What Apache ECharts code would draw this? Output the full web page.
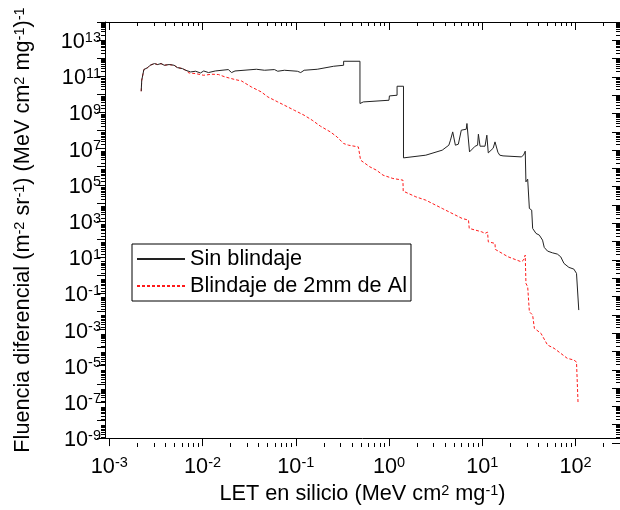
<!DOCTYPE html>
<html>
<head>
<meta charset="utf-8">
<script src="https://cdn.jsdelivr.net/npm/echarts@6/dist/echarts.min.js"></script>
<style>html,body{margin:0;padding:0;background:#fff}#c{width:620px;height:510px}</style>
</head>
<body>
<div id="c"></div>
<script>
// ---- data (LET in MeV cm2 mg-1, fluence) ----
const seriesNames = ['Sin blindaje', 'Blindaje de 2mm de Al'];
const letSin = [2.20e-3,2.23e-3,2.35e-3,2.59e-3,2.74e-3,3.05e-3,3.30e-3,3.59e-3,3.89e-3,4.39e-3,4.96e-3,5.37e-3,6.07e-3,6.60e-3,6.86e-3,7.45e-3,8.42e-3,9.51e-3,1.03e-2,1.16e-2,1.37e-2,1.89e-2,2.05e-2,2.23e-2,3.78e-2,4.63e-2,5.91e-2,6.41e-2,7.55e-2,0.104,0.113,0.123,0.170,0.255,0.326,0.326,0.488,0.488,0.530,0.999,1.01,1.22,1.22,1.43,1.43,2.48,3.72,4.38,4.56,4.82,5.03,5.15,5.54,5.96,6.73,6.85,6.99,7.30,8.39,8.91,9.09,9.36,9.47,10.7,11.2,11.4,11.6,13.1,13.7,14.0,14.7,15.4,16.7,26.2,27.7,28.9,29.4,30.7,32.0,33.9,34.7,37.7,40.9,44.3,46.2,50.1,56.5,63.9,69.4,75.2,84.9,95.9,102.5,105.7,108.4];
const fluSin = [1.65e10,6.58e10,2.52e11,3.24e11,4.33e11,5.36e11,4.73e11,5.36e11,4.33e11,4.73e11,4.33e11,3.24e11,2.86e11,2.31e11,2.52e11,1.87e11,2.04e11,1.64e11,2.11e11,1.73e11,2.11e11,2.52e11,1.73e11,2.11e11,2.62e11,2.31e11,2.52e11,2.04e11,2.31e11,2.04e11,1.73e11,2.31e11,2.62e11,3.82e11,4.33e11,7.16e11,7.16e11,3.52e9,4.30e9,5.32e9,9.14e9,9.98e9,3.09e10,3.09e10,3.77e6,5.30e6,9.93e6,1.86e7,3.49e7,9.9e7,9.5e7,1.86e7,2.11e7,1.23e8,1.39e8,2.85e8,2.61e8,8.02e6,1.64e7,1.86e7,7.41e7,7.41e7,1.64e7,1.64e7,6.55e7,5.77e7,7.07e6,1.28e7,2.82e7,2.7e7,7.71e6,5.30e6,4.85e6,4.28e6,5.30e6,8.75e6,1.85e5,2.59e5,6.52e3,5.27e3,528,282,228,121,48.5,30.5,24.6,20.9,14.9,6.49,3.93,3.17,1.85,1.69,0.0183];
const letAl = [2.20e-3,2.23e-3,2.35e-3,2.59e-3,2.74e-3,3.05e-3,3.30e-3,3.59e-3,3.89e-3,4.39e-3,4.96e-3,5.37e-3,6.07e-3,6.60e-3,6.86e-3,7.15e-3,8.42e-3,1.03e-2,1.26e-2,1.48e-2,1.75e-2,2.23e-2,2.62e-2,3.34e-2,4.27e-2,5.02e-2,6.41e-2,7.55e-2,9.63e-2,0.123,0.150,0.184,0.235,0.277,0.326,0.368,0.469,0.488,0.496,0.623,0.733,0.863,1.10,1.41,1.42,1.94,2.48,3.72,6.07,7.12,7.25,9.87,10.7,11.4,11.6,13.7,13.8,18.9,26.2,27.7,28.9,29.4,30.7,32.0,34.7,36.2,42.6,50.1,58.9,69.4,81.5,95.9,102.5,104.5,106.5];
const fluAl = [1.65e10,6.58e10,2.52e11,3.24e11,4.33e11,5.36e11,4.73e11,5.36e11,4.33e11,4.73e11,4.33e11,3.24e11,2.86e11,2.31e11,2.52e11,1.64e11,1.52e11,1.23e11,1.40e11,1.35e11,9.95e10,7.18e10,6.01e10,2.83e10,1.51e10,8.06e9,4.30e9,2.84e9,1.51e9,8.07e8,4.31e8,2.03e8,9.9e7,5.28e7,2.30e7,1.86e7,1.50e7,1.28e7,2.82e6,1.22e6,8.04e5,4.29e5,2.83e5,2.29e5,5.74e4,2.81e4,1.85e4,6.52e3,1.86e3,1.50e3,528,344,282,332,98,80.2,37.7,14.9,7.94,9.84,18.4,0.526,0.343,0.0148,9.77e-3,1.84e-3,9.8e-4,2.25e-4,1.49e-4,7.94e-5,4.24e-5,3.42e-5,2.66e-5,2.07e-5,1.48e-7];
// axis ranges and tick labels (exponents of 10)
const xMin = 9e-4, xMax = 300;
const yMin = 1e-9, yMax = 1e14;
const xTickExps = [-3, -2, -1, 0, 1, 2];
const yTickExps = [-9,-8,-7,-6,-5,-4,-3,-2,-1,0,1,2,3,4,5,6,7,8,9,10,11,12,13,14];
const yLabelExps = [-9, -7, -5, -3, -1, 1, 3, 5, 7, 9, 11, 13];
const minorMultipliers = [2, 3, 4, 5, 6, 7, 8, 9];

const lx0 = Math.log10(xMin), lx1 = Math.log10(xMax);
const ly0 = Math.log10(yMin), ly1 = Math.log10(yMax);
function minorVals(a, b) {
  const out = [];
  for (let n = Math.floor(a) - 1; n <= Math.ceil(b); n++) {
    minorMultipliers.forEach(k => { const v = n + Math.log10(k); if (v > a && v < b) out.push(v); });
  }
  return out;
}
const xMinor = minorVals(lx0, lx1), yMinor = minorVals(ly0, ly1);

const FONT = 'Liberation Sans, Arial, sans-serif';
const FS = 21.7;
const rich = {
  b: { fontSize: FS, fontFamily: FONT, color: '#000', lineHeight: 24 },
  s: { fontSize: 14.5, fontFamily: FONT, color: '#000', verticalAlign: 'top', lineHeight: 14 }
};
const supFmt = v => '{b|10}{s|' + Math.round(v) + '}';

const G = { left: 105, top: 22, width: 522, height: 421 };
const grids = [0,1,2,3,4].map(() => Object.assign({}, G));
const hidden = { axisLine: {show:false}, axisTick: {show:false}, axisLabel: {show:false}, splitLine: {show:false} };
const lineBlack = { show: true, onZero: false, lineStyle: { color: '#000', width: 1 } };
const noLine = { show: false, onZero: false };

const xAxes = [
  Object.assign({ type: 'log', logBase: 10, min: xMin, max: xMax, gridIndex: 0, position: 'bottom' }, hidden),
  { type: 'value', min: lx0, max: lx1, gridIndex: 1, position: 'bottom',
    axisLine: lineBlack, splitLine: {show:false},
    axisTick: { show: true, inside: false, length: 8, customValues: xTickExps, lineStyle: {color:'#000', width: 1} },
    axisLabel: { show: true, customValues: xTickExps, formatter: supFmt, rich: rich, margin: 17 },
    name: 'LET en silicio (MeV cm{s|2} mg{s|-1})', nameLocation: 'middle', nameGap: 40,
    nameTextStyle: { fontSize: FS, fontFamily: FONT, color: '#000', rich: rich } },
  { type: 'value', min: lx0, max: lx1, gridIndex: 2, position: 'bottom',
    axisLine: noLine, splitLine: {show:false}, axisLabel: {show:false},
    axisTick: { show: true, inside: false, length: 4, customValues: xMinor, lineStyle: {color:'#000', width: 1} } },
  { type: 'value', min: lx0, max: lx1, gridIndex: 3, position: 'top',
    axisLine: lineBlack, splitLine: {show:false}, axisLabel: {show:false},
    axisTick: { show: true, inside: true, length: 8, customValues: xTickExps, lineStyle: {color:'#000', width: 1} } },
  { type: 'value', min: lx0, max: lx1, gridIndex: 4, position: 'top',
    axisLine: noLine, splitLine: {show:false}, axisLabel: {show:false},
    axisTick: { show: true, inside: true, length: 4, customValues: xMinor, lineStyle: {color:'#000', width: 1} } }
];
const yAxes = [
  Object.assign({ type: 'log', logBase: 10, min: yMin, max: yMax, gridIndex: 0, position: 'left' }, hidden),
  { type: 'value', min: ly0, max: ly1, gridIndex: 1, position: 'left',
    axisLine: lineBlack, splitLine: {show:false},
    axisTick: { show: true, inside: false, length: 8, customValues: yTickExps, lineStyle: {color:'#000', width: 1} },
    axisLabel: { show: true, customValues: yLabelExps, formatter: supFmt, rich: rich, margin: 4, padding: [4, 0, 0, 0] },
    name: 'Fluencia diferencial (m{s|-2} sr{s|-1}) (MeV cm{s|2} mg{s|-1}){s|-1}', nameLocation: 'middle', nameGap: 71,
    nameTextStyle: { fontSize: FS, fontFamily: FONT, color: '#000', rich: rich } },
  { type: 'value', min: ly0, max: ly1, gridIndex: 2, position: 'left',
    axisLine: noLine, splitLine: {show:false}, axisLabel: {show:false},
    axisTick: { show: true, inside: false, length: 4, customValues: yMinor, lineStyle: {color:'#000', width: 1} } },
  { type: 'value', min: ly0, max: ly1, gridIndex: 3, position: 'right',
    axisLine: lineBlack, splitLine: {show:false}, axisLabel: {show:false},
    axisTick: { show: true, inside: true, length: 8, customValues: yTickExps, lineStyle: {color:'#000', width: 1} } },
  { type: 'value', min: ly0, max: ly1, gridIndex: 4, position: 'right',
    axisLine: noLine, splitLine: {show:false}, axisLabel: {show:false},
    axisTick: { show: true, inside: true, length: 4, customValues: yMinor, lineStyle: {color:'#000', width: 1} } }
];

const pairs = (xs, ys) => xs.map((x, i) => [x, ys[i]]);

const chart = echarts.init(document.getElementById('c'), null, { renderer: 'canvas' });
chart.setOption({
  animation: false,
  backgroundColor: '#fff',
  grid: grids,
  xAxis: xAxes,
  yAxis: yAxes,
  legend: {
    orient: 'vertical', left: 132, top: 244,
    padding: [4, 4, 4, 4], itemGap: 5, itemWidth: 48, itemHeight: 14,
    borderColor: '#000', borderWidth: 1, backgroundColor: '#fff',
    itemStyle: { opacity: 0 },
    textStyle: { fontSize: FS, fontFamily: FONT, color: '#000' },
    data: seriesNames
  },
  series: [
    { name: seriesNames[0], type: 'line', xAxisIndex: 0, yAxisIndex: 0, data: pairs(letSin, fluSin),
      symbol: 'none', showSymbol: false, lineStyle: { color: '#222', width: 1 }, itemStyle: { color: '#222' }, z: 3 },
    { name: seriesNames[1], type: 'line', xAxisIndex: 0, yAxisIndex: 0, data: pairs(letAl, fluAl),
      symbol: 'none', showSymbol: false, lineStyle: { color: '#ff1a1a', width: 1, type: [3, 2] }, itemStyle: { color: '#ff1a1a' }, z: 2 }
  ]
});
</script>
</body>
</html>
